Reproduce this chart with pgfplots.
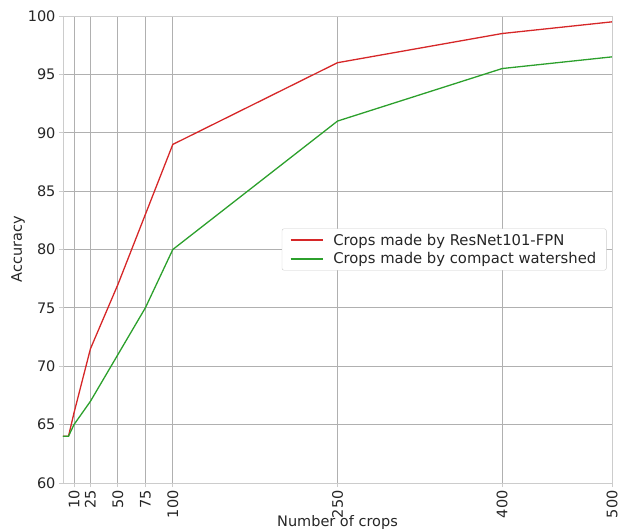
\documentclass[border=0pt]{standalone}
\usepackage{fontspec}
\setmainfont{DejaVu Sans}
\usepackage{pgfplots}
\pgfplotsset{compat=1.18}

\definecolor{tabred}{HTML}{D62728}
\definecolor{tabgreen}{HTML}{2CA02C}
\definecolor{gridgray}{HTML}{B0B0B0}
\definecolor{spinegray}{HTML}{CCCCCC}
\definecolor{txt}{HTML}{262626}

\begin{document}
\begin{tikzpicture}
\path[use as bounding box] (-63pt,-48pt) rectangle (567pt,483pt);
\begin{axis}[
  at={(0,0)}, anchor=south west,
  scale only axis,
  width=549pt, height=467pt,
  xmin=0, xmax=500, ymin=60, ymax=100,
  xtick={10,25,50,75,100,250,400,500},
  ytick={60,65,...,100},
  xticklabel style={rotate=90, anchor=east, font=\fontsize{14.5}{16}\selectfont, text=txt},
  yticklabel style={font=\fontsize{14.5}{16}\selectfont, text=txt},
  /pgf/number format/assume math mode=true,
  xlabel={Number of crops},
  ylabel={Accuracy},
  label style={font=\fontsize{14.5}{16}\selectfont, text=txt},
  xlabel style={yshift=10pt},
  ylabel style={yshift=-4pt},
  grid=major,
  major grid style={gridgray, line width=0.9pt},
  axis line style={spinegray, line width=0.9pt},
  tick style={spinegray, line width=0.9pt},
  tick align=outside,
  major tick length=4pt,
  xtick pos=bottom, ytick pos=left,
  legend style={at={(0.99,0.5)}, anchor=east,
    font=\fontsize{14.8}{18}\selectfont, text=txt,
    draw=spinegray, rounded corners=2pt, fill=white,
    inner xsep=8pt, inner ysep=3pt, row sep=2pt},
  legend cell align=left,
  legend image code/.code={\draw[#1] (0pt,0pt) -- (32pt,0pt); \path (40pt,0pt);},
]
\addplot[tabred, line width=1.3pt] coordinates {
  (0,64) (5,64) (10,66) (25,71.5) (50,77) (75,83) (100,89) (250,96) (400,98.5) (500,99.5)
};
\addlegendentry{Crops made by ResNet101-FPN}
\addplot[tabgreen, line width=1.3pt] coordinates {
  (0,64) (5,64) (10,65) (25,67) (50,71) (75,75) (100,80) (250,91) (400,95.5) (500,96.5)
};
\addlegendentry{Crops made by compact watershed}
\end{axis}
\end{tikzpicture}
\end{document}
